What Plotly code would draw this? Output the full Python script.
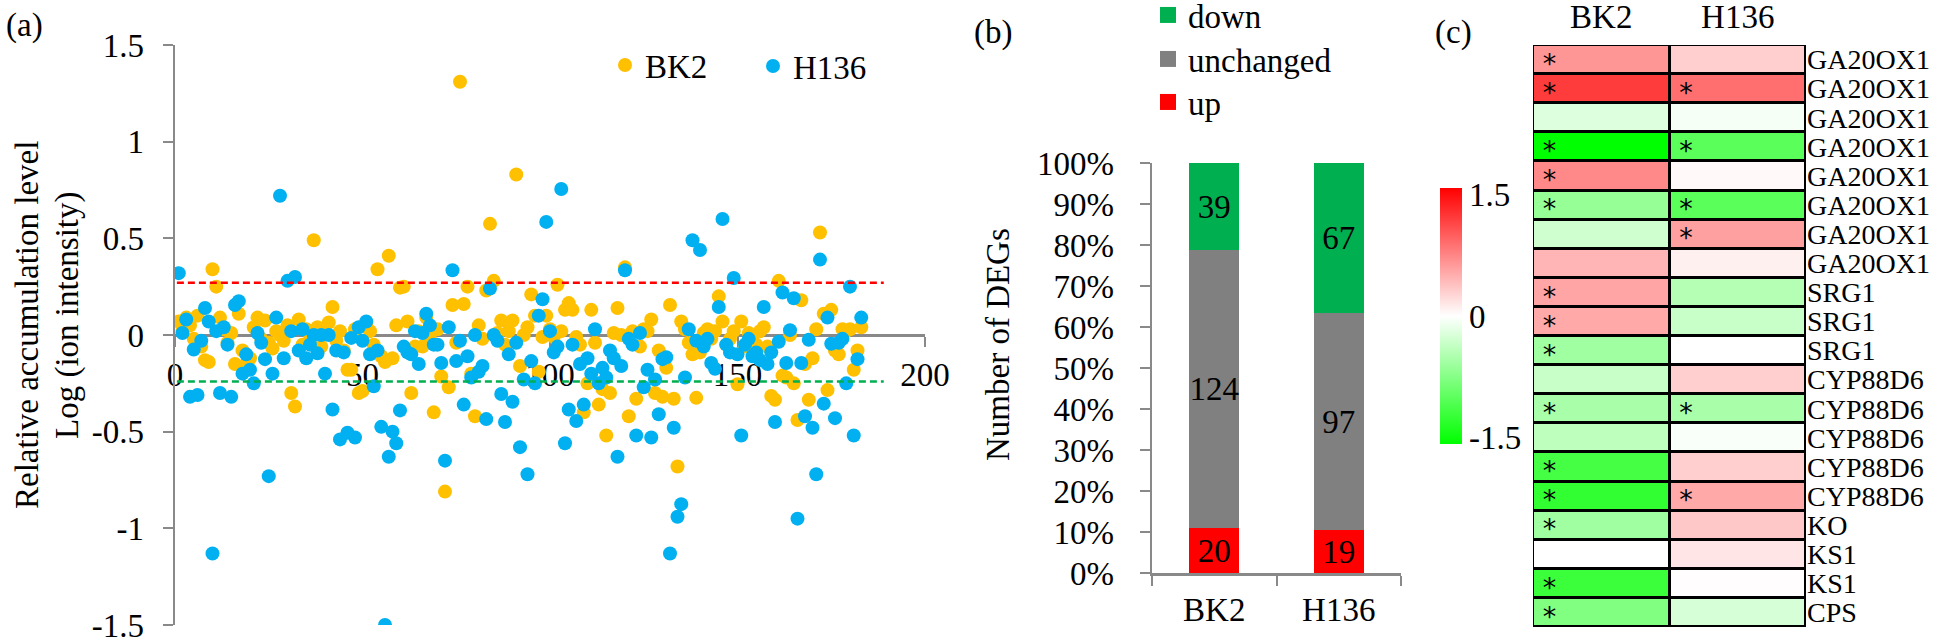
import plotly.graph_objects as go

W, H = 1946, 640
FONT = "Liberation Serif"
AXIS_GRAY = "#898989"

# ---------------- Panel (a): metabolite scatter ----------------
bk2_values = [
    0.07, 0.02, 0.09, 0.05, -0.02, 0.10, -0.06, -0.13, -0.14, 0.34,
    0.25, 0.09, 0.03, -0.04, 0.01, -0.15, 0.11, -0.08, -0.15, -0.12,
    0.04, 0.09, -0.02, 0.075, -0.04, -0.07, 0.02, 0.00, -0.03, 0.05,
    -0.30, -0.37, 0.08, -0.05, 0.03, -0.02, 0.49, 0.04, -0.06, 0.01,
    0.065, 0.145, -0.03, 0.02, -0.08, -0.18, -0.18, 0.03, -0.30, -0.29,
    0.06, 0.02, -0.05, 0.34, -0.11, -0.14, 0.41, -0.12, 0.05, 0.245,
    0.25, 0.07, -0.30, -0.06, 0.02, -0.06, 0.09, -0.02, -0.40, 0.03,
    -0.215, -0.81, -0.27, 0.155, -0.04, 1.31, 0.16, 0.25, -0.20, -0.42,
    0.05, -0.02, 0.23, 0.575, 0.28, 0.01, 0.075, -0.05, 0.02, 0.075,
    0.83, -0.16, 0.00, 0.04, 0.21, 0.10, -0.19, -0.01, 0.10, 0.03,
    -0.01, 0.26, 0.02, 0.13, 0.165, 0.13, -0.01, -0.05, -0.40, -0.25,
    0.13, -0.04, -0.36, -0.28, -0.52, -0.30, 0.01, 0.14, 0.00, 0.35,
    -0.42, 0.02, -0.33, -0.06, 0.03, 0.02, 0.08, -0.30, -0.08, -0.32,
    -0.17, 0.155, -0.33, -0.68, 0.07, 0.03, -0.04, -0.10, -0.325, -0.09,
    0.01, 0.03, -0.02, 0.02, 0.20, 0.07, -0.05, -0.02, 0.02, -0.255,
    0.07, -0.06, 0.01, -0.03, -0.05, 0.02, 0.04, -0.06, -0.315, -0.335,
    0.28, -0.21, -0.22, 0.00, -0.25, -0.44, 0.18, -0.15, -0.335, -0.12,
    0.03, 0.53, 0.11, -0.285, 0.13, -0.08, -0.10, 0.03, 0.02, 0.03,
    -0.18, -0.08, 0.04,
]
h136_values = [
    0.32, 0.01, 0.08, -0.32, -0.075, -0.31, -0.03, 0.14, 0.07, -1.13,
    0.02, -0.30, 0.04, -0.05, -0.32, 0.155, 0.175, -0.20, -0.10, -0.18,
    -0.25, 0.01, -0.04, -0.125, -0.73, -0.20, 0.09, 0.72, -0.12, 0.28,
    0.02, 0.30, -0.08, 0.03, -0.12, -0.05, 0.00, -0.095, 0.00, -0.20,
    0.00, -0.385, -0.08, -0.54, -0.09, -0.505, -0.015, -0.53, 0.04, -0.03,
    0.07, -0.10, -0.265, -0.08, -0.475, -1.50, -0.63, -0.50, -0.56, -0.39,
    -0.06, -0.09, -0.10, 0.02, -0.15, 0.01, 0.11, 0.05, -0.05, -0.05,
    -0.145, -0.65, 0.04, 0.335, -0.135, -0.03, -0.36, -0.11, -0.22, 0.00,
    -0.19, -0.16, -0.435, 0.24, 0.00, -0.03, -0.305, -0.45, -0.10, -0.345,
    -0.04, -0.58, -0.23, -0.72, -0.135, -0.25, 0.10, 0.185, 0.585, 0.02,
    -0.09, -0.06, 0.755, -0.56, -0.385, -0.05, -0.445, -0.15, -0.36, -0.12,
    -0.20, 0.03, -0.25, -0.17, -0.22, -0.08, -0.12, -0.63, -0.16, 0.335,
    -0.02, -0.05, -0.52, 0.01, -0.27, -0.18, -0.53, -0.23, -0.41, -0.125,
    -0.115, -1.13, -0.48, -0.94, -0.875, -0.22, 0.03, 0.49, -0.03, 0.44,
    -0.06, -0.02, -0.145, -0.175, 0.145, 0.60, -0.05, -0.09, 0.295, -0.10,
    -0.52, -0.05, -0.02, -0.11, -0.09, -0.13, 0.145, -0.15, -0.09, -0.45,
    -0.035, 0.22, -0.145, 0.025, 0.19, -0.95, -0.145, -0.42, -0.025, -0.48,
    -0.72, 0.39, -0.355, 0.09, -0.045, -0.43, -0.04, -0.02, -0.25, 0.25,
    -0.52, -0.125, 0.09,
]
metabolite_index = list(range(1, len(bk2_values) + 1))
up_threshold = 0.27
down_threshold = -0.24
threshold_x = [0.5, 189]
a_xticks = [0, 50, 100, 150, 200]
a_yticks = [-1.5, -1, -0.5, 0, 0.5, 1, 1.5]
a_yticklabels = ["-1.5", "-1", "-0.5", "0", "0.5", "1", "1.5"]

# ---------------- Panel (b): DEG stacked bars ----------------
deg_groups = ["BK2", "H136"]
deg_up = [20, 19]
deg_unchanged = [124, 97]
deg_down = [39, 67]
b_yticks = [0, 10, 20, 30, 40, 50, 60, 70, 80, 90, 100]
b_yticklabels = [f"{v}%" for v in b_yticks]

# ---------------- Panel (c): heatmap ----------------
genes = ["GA20OX1", "GA20OX1", "GA20OX1", "GA20OX1", "GA20OX1", "GA20OX1",
         "GA20OX1", "GA20OX1", "SRG1", "SRG1", "SRG1", "CYP88D6", "CYP88D6",
         "CYP88D6", "CYP88D6", "CYP88D6", "KO", "KS1", "KS1", "CPS"]
heat_columns = ["BK2", "H136"]
heat_bk2 = [0.65, 1.21, -0.21, -1.58, 0.74, -0.65, -0.30, 0.46, 0.56, 0.53,
            -0.59, -0.34, -0.53, -0.40, -1.15, -1.27, -0.59, 0.00, -1.21, -0.78]
heat_h136 = [0.30, 0.89, -0.06, -1.02, 0.04, -1.02, 0.59, 0.09, -0.46, -0.34,
             0.00, 0.30, -0.53, -0.04, 0.30, 0.53, 0.34, 0.16, 0.01, -0.25]
sig_bk2 = [1, 1, 0, 1, 1, 1, 0, 0, 1, 1, 1, 0, 1, 0, 1, 1, 1, 0, 1, 1]
sig_h136 = [0, 1, 0, 1, 0, 1, 1, 0, 0, 0, 0, 0, 1, 0, 0, 1, 0, 0, 0, 0]
color_limit = 1.58
cbar_ticks = [-1.5, 0, 1.5]
cbar_ticklabels = ["-1.5", "0", "1.5"]


def px_x(p):
    return p / W


def px_y(p):
    return 1 - p / H


fig = go.Figure()

# ---- (a) ----
fig.add_trace(go.Scatter(x=metabolite_index, y=bk2_values, mode="markers", name="BK2",
                         marker=dict(color="#FFC000", size=14, line=dict(width=0)),
                         xaxis="x", yaxis="y", legend="legend"))
fig.add_trace(go.Scatter(x=metabolite_index, y=h136_values, mode="markers", name="H136",
                         marker=dict(color="#00B0F0", size=14, line=dict(width=0)),
                         xaxis="x", yaxis="y", legend="legend2"))
fig.add_trace(go.Scatter(x=threshold_x, y=[up_threshold] * 2, mode="lines", showlegend=False,
                         line=dict(color="#FF0000", width=2.5, dash="7px,4px"),
                         xaxis="x", yaxis="y"))
fig.add_trace(go.Scatter(x=threshold_x, y=[down_threshold] * 2, mode="lines", showlegend=False,
                         line=dict(color="#00B050", width=2.5, dash="7px,4px"),
                         xaxis="x", yaxis="y"))

# ---- (b) ----
bar_specs = [("up", deg_up, "#FF0000", "legend5"),
             ("unchanged", deg_unchanged, "#808080", "legend4"),
             ("down", deg_down, "#00B050", "legend3")]
for name, vals, col, lg in bar_specs:
    fig.add_trace(go.Bar(x=deg_groups, y=vals, name=name, marker=dict(color=col, line=dict(width=0)),
                         width=0.4, text=[str(v) for v in vals], textposition="inside",
                         insidetextanchor="middle", constraintext="none", textangle=0,
                         textfont=dict(family=FONT, size=33, color="black"),
                         showlegend=False, legendgroup=name, xaxis="x2", yaxis="y2"))
for name, vals, col, lg in bar_specs:
    fig.add_trace(go.Scatter(x=[None], y=[None], mode="markers", name=name, legendgroup=name,
                             marker=dict(symbol="square", size=18, color=col, line=dict(width=0)),
                             xaxis="x2", yaxis="y2", legend=lg))

# ---- (c) ----
z = [[b, h] for b, h in zip(heat_bk2, heat_h136)]
rows = list(range(len(genes)))
fig.add_trace(go.Heatmap(
    z=z, x=[0, 1], y=rows, zmin=-color_limit, zmax=color_limit, xgap=3, ygap=3,
    colorscale=[[0, "#00FF00"], [0.5, "#FFFFFF"], [1, "#FF0000"]],
    xaxis="x3", yaxis="y3", showscale=True,
    colorbar=dict(x=px_x(1440), xanchor="left", xpad=0, ypad=0, thickness=22,
                  len=256, lenmode="pixels", y=px_y(316), yanchor="middle",
                  outlinewidth=0, tickvals=cbar_ticks, ticktext=cbar_ticklabels,
                  ticks="", tickfont=dict(family=FONT, size=33, color="black")),
))
star_x, star_y = [], []
for c, sig in enumerate([sig_bk2, sig_h136]):
    for r, s in enumerate(sig):
        if s:
            star_x.append(c - 0.38)
            star_y.append(r + 0.22)
fig.add_trace(go.Scatter(x=star_x, y=star_y, mode="text", text=["*"] * len(star_x),
                         textfont=dict(family="DejaVu Sans", size=27, color="black"),
                         showlegend=False, cliponaxis=False, xaxis="x3", yaxis="y3"))

tick_font = dict(family=FONT, size=33, color="black")
y_a0, y_a1 = px_y(625), px_y(45)


def legend_at(x_px, y_px):
    return dict(orientation="v", x=px_x(x_px), xanchor="left", y=px_y(y_px), yanchor="middle",
                font=dict(family=FONT, size=33, color="black"), bgcolor="rgba(0,0,0,0)",
                borderwidth=0, itemclick=False, itemdoubleclick=False)


common_axis = dict(showgrid=False, zeroline=False, automargin=False, ticklabeloverflow="allow")


def text_note(text, x_px, y_px, angle=0):
    return dict(text=text, x=px_x(x_px), y=px_y(y_px), xref="paper", yref="paper",
                showarrow=False, textangle=angle, xanchor="center", yanchor="middle",
                font=dict(family=FONT, size=33, color="black"))


fig.update_layout(
    template="none",
    width=W, height=H, margin=dict(l=0, r=0, t=0, b=0, pad=0, autoexpand=False),
    paper_bgcolor="white", plot_bgcolor="rgba(0,0,0,0)",
    barmode="stack", barnorm="percent", hovermode=False,
    font=dict(family=FONT, size=33, color="black"),
    xaxis=dict(domain=[px_x(175), px_x(925)], range=[0, 200], anchor="free",
               position=(y_a0 + y_a1) / 2, showline=True, linecolor=AXIS_GRAY, linewidth=2.5,
               ticks="outside", ticklen=10, tickwidth=2, tickcolor=AXIS_GRAY,
               tickvals=a_xticks, tickfont=tick_font,
               ticklabelstandoff=0, layer="below traces", **common_axis),
    yaxis=dict(domain=[y_a0, y_a1], range=[-1.5, 1.5], anchor="x", showline=True,
               linecolor=AXIS_GRAY, linewidth=2.5, ticks="outside", ticklen=10, tickwidth=2,
               tickcolor=AXIS_GRAY, tickvals=a_yticks, ticktext=a_yticklabels,
               tickfont=tick_font, ticklabelstandoff=12, **common_axis),
    xaxis2=dict(domain=[px_x(1152), px_x(1401)], range=[-0.5, 1.5], anchor="y2", type="category",
                showline=True, linecolor=AXIS_GRAY, linewidth=2.5, ticks="outside", ticklen=10,
                tickwidth=2, tickcolor=AXIS_GRAY, tickson="boundaries",
                tickfont=tick_font, ticklabelstandoff=6, **common_axis),
    yaxis2=dict(domain=[px_y(573), px_y(163)], range=[0, 100], anchor="x2", showline=True,
                linecolor=AXIS_GRAY, linewidth=2.5, ticks="outside", ticklen=10, tickwidth=2,
                tickcolor=AXIS_GRAY, tickvals=b_yticks, ticktext=b_yticklabels,
                tickfont=tick_font, ticklabelstandoff=19, **common_axis),
    xaxis3=dict(domain=[px_x(1533), px_x(1806)], range=[-0.5, 1.5], anchor="y3", side="top",
                tickvals=[0, 1], ticktext=heat_columns, showline=False, ticks="",
                tickfont=tick_font, ticklabelstandoff=9, **common_axis),
    yaxis3=dict(domain=[px_y(627), px_y(45)], range=[len(genes) - 0.5, -0.5], anchor="x3",
                side="right", tickvals=rows, ticktext=genes, showline=False, ticks="",
                tickfont=dict(family=FONT, size=28, color="black"), ticklabelstandoff=0,
                **common_axis),
    legend=legend_at(605, 65),
    legend2=legend_at(753, 66),
    legend3=legend_at(1148, 15),
    legend4=legend_at(1148, 59),
    legend5=legend_at(1148, 102),
    shapes=[dict(type="rect", xref="x3 domain", yref="y3 domain", x0=0, x1=1, y0=0, y1=1,
                 fillcolor="black", line=dict(width=0), layer="below")],
    annotations=[
        text_note("(a)", 24, 25),
        text_note("(b)", 993, 33),
        text_note("(c)", 1453, 32),
        text_note("Relative accumulation level", 27, 325, -90),
        text_note("Log (ion intensity)", 67, 316, -90),
        text_note("Number of DEGs", 998, 345, -90),
    ],
)

fig.write_html("out.html", config={"displayModeBar": False, "staticPlot": True},
               post_script="document.body.style.margin='0px';document.body.style.padding='0px';")
